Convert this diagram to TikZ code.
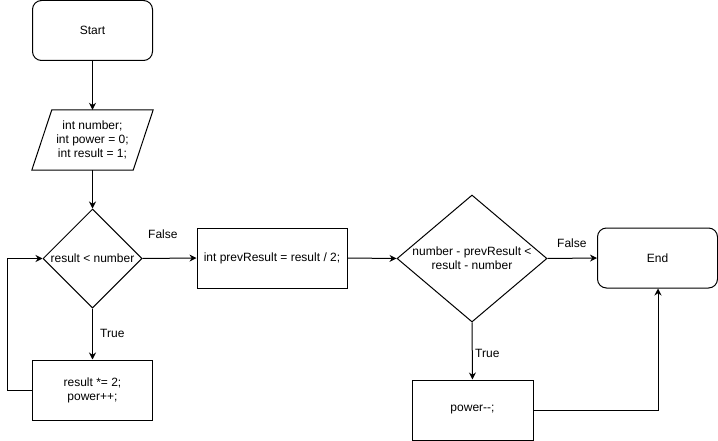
\documentclass[tikz,border=0pt]{standalone}
\usepackage{fontspec}
\setmainfont{Liberation Sans}
\usetikzlibrary{shapes.geometric,arrows.meta,calc}
\begin{document}
\begin{tikzpicture}[x=1pt,y=-1pt,
  font=\fontsize{12}{14}\selectfont,
  every node/.style={align=center, inner sep=0pt},
  terminal/.style={draw, line width=1pt, rounded corners=9pt, minimum width=120pt, minimum height=60pt},
  process/.style={draw, line width=1pt, minimum height=60pt},
  iobody/.style={minimum width=101pt, minimum height=60pt},
  decision/.style={draw, line width=1pt, diamond},
  flow/.style={draw, line width=1pt, -{Stealth[length=7pt,width=7pt]}},
  tag/.style={anchor=west}]
\useasboundingbox (0,0) rectangle (718,441);

% nodes
\node[terminal] (start) at (92.5,30.5) {Start};
\node[iobody] (input) at (92.5,140) {int number;\\int power = 0;\\int result = 1;};
\draw[line width=1pt] ($(input.north west)+(10,0)$) -- ($(input.north east)+(10,0)$)
  -- ($(input.south east)+(-10,0)$) -- ($(input.south west)+(-10,0)$) -- cycle;
\node[decision, minimum width=99pt, minimum height=99pt] (loop) at (92.5,258.5) {};
\node (looptext) at (92.5,258.5) {result < number};
\node[process, minimum width=120pt] (double) at (92.5,390) {result *= 2;\\power++;};
\node[process, minimum width=150pt] (prev) at (272,258) {int prevResult = result / 2;};
\node[decision, minimum width=150pt, minimum height=127pt] (closer) at (472,258.5) {};
\node (closertext) at (472,258.5) {number - prevResult <\\result - number};
\node[terminal] (end) at (657.5,258) {End};
\node[process, minimum width=121pt] (dec) at (472.5,410) {power-{}-;};

% connectors
\draw[flow] (start.south) -- (input.north);
\draw[flow] (input.south) -- (loop.north);
\draw[flow] (loop.south) -- (double.north);
\node[tag] (looptrue) at (100,333) {True};
\coordinate (loopback) at (7,390);
\draw[flow] (double.west) -- (loopback) |- (loop.west);
\draw[flow] (loop.east) -- (prev.west);
\node[tag] (loopfalse) at (148,234) {False};
\draw[flow] (prev.east) -- (closer.west);
\draw[flow] (closer.east) -- (end.west);
\node[tag] (closerfalse) at (557,243) {False};
\draw[flow] (closer.south) -- (dec.north);
\node[tag] (closertrue) at (475,353) {True};
\coordinate (decturn) at (658,410);
\draw[flow] (dec.east) -- (decturn) -- (end.south -| decturn);
\end{tikzpicture}
\end{document}
